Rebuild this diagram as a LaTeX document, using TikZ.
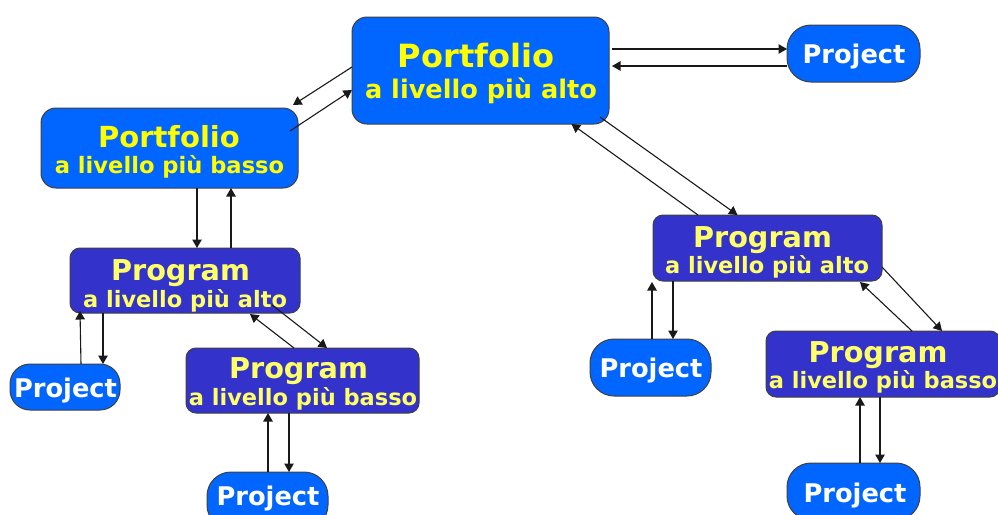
\documentclass[tikz,border=0pt]{standalone}
\usepackage{fontspec}
\setmainfont{DejaVu Sans}
\usetikzlibrary{arrows.meta,calc}
\definecolor{pfblue}{HTML}{0066FF}
\definecolor{pgblue}{HTML}{3333CC}
\definecolor{ylw}{HTML}{FFFF00}
\definecolor{lylw}{HTML}{FFFF66}
\begin{document}
\begin{tikzpicture}[x=1pt,y=-1pt,
  box/.style={draw=black!75, line width=1pt, inner sep=0pt, outer sep=0pt, rectangle},
  pfbox/.style={box, fill=pfblue, rounded corners=15pt},
  pgbox/.style={box, fill=pgblue, rounded corners=10pt},
  prbox/.style={box, fill=pfblue, rounded corners=#1},
  txt/.style={inner sep=0pt, anchor=base},
  arr/.style={-{Triangle[length=8.5pt,width=9.5pt]}, line width=1.1pt, draw=black!90}]
\useasboundingbox[fill=white] (0,0) rectangle (998,514);
% boxes
\node[pfbox, minimum width=257pt, minimum height=107pt] (pfa) at (480.5,70.5) {};
\node[pfbox, minimum width=257pt, minimum height=80pt] (pfb) at (169.5,148) {};
\node[pgbox, minimum width=230pt, minimum height=65pt] (pga) at (185,280.5) {};
\node[prbox=20pt, minimum width=110pt, minimum height=46pt] (prl) at (65,387) {};
\node[pgbox, minimum width=233pt, minimum height=65pt] (pgb) at (302.5,380.5) {};
\node[prbox=24pt, minimum width=121pt, minimum height=57pt] (prbl) at (267.5,500.5) {};
\node[prbox=24pt, minimum width=133pt, minimum height=57pt] (prtr) at (853.5,53.5) {};
\node[pgbox, minimum width=229pt, minimum height=66pt] (pgar) at (767.5,248) {};
\node[prbox=24pt, minimum width=121pt, minimum height=57pt] (prmr) at (650.5,367.5) {};
\node[pgbox, minimum width=234pt, minimum height=66pt] (pgbr) at (883,364) {};
\node[prbox=24pt, minimum width=133pt, minimum height=57pt] (prbr) at (853.5,491.5) {};
% texts
\node[txt, text=ylw, font={\fontsize{32}{32}\selectfont\bfseries}] (pfa1) at (476,67) {Portfolio};
\node[txt, text=ylw, font={\fontsize{25.6}{26}\selectfont\bfseries}] (pfa2) at (481,98) {a livello più alto};
\node[txt, text=ylw, font={\fontsize{29}{29}\selectfont\bfseries}] (pfb1) at (169,147) {Portfolio};
\node[txt, text=ylw, font={\fontsize{22.6}{23}\selectfont\bfseries}] (pfb2) at (169.5,173) {a livello più basso};
\node[txt, text=lylw, font={\fontsize{28.7}{29}\selectfont\bfseries}] (pga1) at (180.5,280) {Program};
\node[txt, text=lylw, font={\fontsize{22.5}{23}\selectfont\bfseries}] (pga2) at (185,307) {a livello più alto};
\node[txt, text=lylw, font={\fontsize{28.7}{29}\selectfont\bfseries}] (pgb1) at (298.5,378) {Program};
\node[txt, text=lylw, font={\fontsize{22.5}{23}\selectfont\bfseries}] (pgb2) at (303,405) {a livello più basso};
\node[txt, text=lylw, font={\fontsize{28.7}{29}\selectfont\bfseries}] (pgar1) at (762.5,247) {Program};
\node[txt, text=lylw, font={\fontsize{22.5}{23}\selectfont\bfseries}] (pgar2) at (767,273) {a livello più alto};
\node[txt, text=lylw, font={\fontsize{28.7}{29}\selectfont\bfseries}] (pgbr1) at (878,362) {Program};
\node[txt, text=lylw, font={\fontsize{22.5}{23}\selectfont\bfseries}] (pgbr2) at (883,388) {a livello più basso};
\node[txt, text=white, font={\fontsize{25.7}{26}\selectfont\bfseries}] (prl1) at (65.5,397) {Project};
\node[txt, text=white, font={\fontsize{25.7}{26}\selectfont\bfseries}] (prbl1) at (268,505) {Project};
\node[txt, text=white, font={\fontsize{25.7}{26}\selectfont\bfseries}] (prtr1) at (854,63) {Project};
\node[txt, text=white, font={\fontsize{25.7}{26}\selectfont\bfseries}] (prmr1) at (651,377) {Project};
\node[txt, text=white, font={\fontsize{25.7}{26}\selectfont\bfseries}] (prbr1) at (855,502) {Project};
% connectors
\draw[arr] ($(pfa.east)+(3,-21.5)$) -- ($(prtr.west)+(0,-4.5)$);
\draw[arr] ($(prtr.west)+(0,12.5)$) -- ($(pfa.east)+(3,-4.5)$);
\draw[arr] ($(pfa.west)+(0,-3.5)$) -- ($(pfb.north east)+(-5,-3)$);
\draw[arr] ($(pfb.east)+(-8,-17)$) -- ($(pfa.west)+(0,19.5)$);
\draw[arr] ($(pgar.north)+(-69.5,0)$) -- ($(pfa.south)+(91,0)$);
\draw[arr] ($(pfa.south east)+(-9,-7)$) -- ($(pgar.north)+(-30,0)$);
\draw[arr] ($(pfb.south)+(27.5,0)$) -- ($(pga.north)+(12,0)$);
\draw[arr] ($(pga.north)+(46,0)$) -- ($(pfb.south)+(61.5,0)$);
\draw[arr] ($(prl.north)+(16,0)$) -- ($(pga.south)+(-105,-2)$);
\draw[arr] ($(pga.south)+(-82,0)$) -- ($(prl.north)+(38,0)$);
\draw[arr] ($(pgb.north)+(-8.5,0)$) -- ($(pga.south)+(65,1)$);
\draw[arr] ($(pga.south)+(87,-8)$) -- ($(pgb.north)+(24.5,0)$);
\draw[arr] ($(prbl.north)+(0.5,0)$) -- ($(pgb.south)+(-34.5,0)$);
\draw[arr] ($(pgb.south)+(-13.5,0)$) -- ($(prbl.north)+(21.5,0)$);
\draw[arr] ($(prmr.north)+(1.5,0)$) -- ($(pgar.south)+(-115.5,1)$);
\draw[arr] ($(pgar.south)+(-94.5,0)$) -- ($(prmr.north)+(22.5,0)$);
\draw[arr] ($(pgbr.north)+(29,0)$) -- ($(pgar.south east)+(-22,1)$);
\draw[arr] ($(pgar.east)+(0,19)$) -- ($(pgbr.north)+(59,0)$);
\draw[arr] ($(prbr.north)+(6.5,0)$) -- ($(pgbr.south)+(-23,0)$);
\draw[arr] ($(pgbr.south)+(-3,0)$) -- ($(prbr.north)+(26.5,0)$);
\end{tikzpicture}
\end{document}
